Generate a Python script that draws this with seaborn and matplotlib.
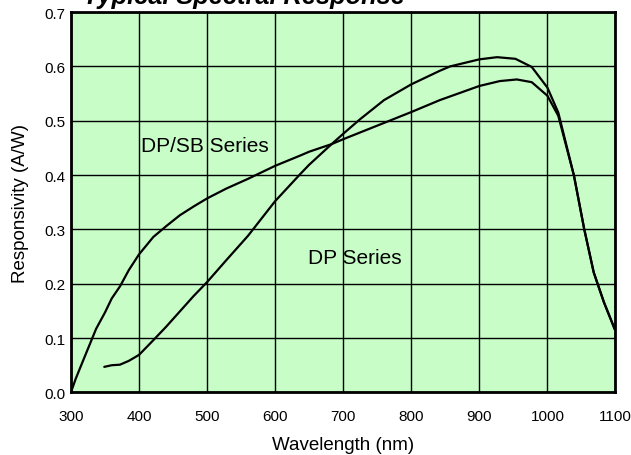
import matplotlib
matplotlib.use('Agg')
import matplotlib.pyplot as plt
import seaborn as sns
import pandas as pd

# ---- data ----
dpsb_wl = [300, 307, 320, 337, 350, 360, 372, 385, 400, 421, 440, 460, 480, 500, 528, 560, 600, 637, 650,
           683, 700, 750, 800, 842, 900, 930, 955, 977, 1000, 1016, 1039, 1054, 1068, 1083, 1099]
dpsb_resp = [0.0, 0.025, 0.065, 0.117, 0.147, 0.173, 0.195, 0.225, 0.254, 0.286, 0.306, 0.326, 0.342, 0.357,
             0.375, 0.393, 0.417, 0.436, 0.443, 0.457, 0.466, 0.491, 0.516, 0.538, 0.564, 0.573, 0.576,
             0.571, 0.546, 0.509, 0.399, 0.301, 0.221, 0.166, 0.116]

dp_wl = [349, 360, 372, 385, 400, 421, 440, 455, 480, 500, 528, 560, 600, 637, 650, 683, 700, 725, 760,
         800, 842, 857, 900, 926, 953, 977, 1000, 1016, 1039, 1054, 1068, 1083, 1099]
dp_resp = [0.047, 0.050, 0.051, 0.058, 0.069, 0.096, 0.121, 0.142, 0.177, 0.203, 0.243, 0.288, 0.352, 0.402,
           0.419, 0.457, 0.476, 0.503, 0.538, 0.567, 0.592, 0.600, 0.613, 0.617, 0.614, 0.599, 0.561,
           0.515, 0.399, 0.301, 0.221, 0.166, 0.116]

x_ticks = [300, 400, 500, 600, 700, 800, 900, 1000, 1100]
y_ticks = [0.0, 0.1, 0.2, 0.3, 0.4, 0.5, 0.6, 0.7]
y_tick_labels = ['0.0', '0.1', '0.2', '0.3', '0.4', '0.5', '0.6', '0.7']

title = 'Typical Spectral Response'
x_label = 'Wavelength (nm)'
y_label = 'Responsivity (A/W)'
label_dpsb = 'DP/SB Series'
label_dp = 'DP Series'

sns.set_theme(style='white')
plt.rcParams['font.family'] = ['Liberation Sans', 'DejaVu Sans']

fig = plt.figure(figsize=(6.31, 4.56), dpi=100)
ax = fig.add_axes([0.1124, 0.1373, 0.863, 0.834])
ax.set_facecolor('#c8fdc8')

df1 = pd.DataFrame({'wl': dpsb_wl, 'r': dpsb_resp})
df2 = pd.DataFrame({'wl': dp_wl, 'r': dp_resp})
sns.lineplot(data=df1, x='wl', y='r', ax=ax, color='black', linewidth=1.6, sort=False, zorder=3)
sns.lineplot(data=df2, x='wl', y='r', ax=ax, color='black', linewidth=1.6, sort=False, zorder=3)

ax.set_xlim(300, 1100)
ax.set_ylim(0, 0.7)
ax.set_xticks(x_ticks)
ax.set_xticklabels([str(t) for t in x_ticks])
ax.set_yticks(y_ticks)
ax.set_yticklabels(y_tick_labels)
ax.grid(True, color='#000000', linewidth=1.0)
ax.set_axisbelow(True)
for s in ax.spines.values():
    s.set_color('black')
    s.set_linewidth(2.0)
    s.set_visible(True)
ax.tick_params(length=0, labelsize=11, colors='black')
ax.tick_params(axis='x', pad=12)
ax.tick_params(axis='y', pad=4)

ax.set_xlabel(x_label, fontsize=13.5, labelpad=9, color='black')
ax.set_ylabel(y_label, fontsize=13.5, labelpad=11, color='black')

ax.text(402.5, 0.4436, label_dpsb, fontsize=15, ha='left', va='baseline', color='black')
ax.text(648.3, 0.238, label_dp, fontsize=15, ha='left', va='baseline', color='black')

fig.text(83 / 631, 1 - 4 / 456, title, fontsize=18.3, fontweight='bold', fontstyle='italic',
         ha='left', va='baseline', color='black')

fig.savefig('out.png', dpi=100)
